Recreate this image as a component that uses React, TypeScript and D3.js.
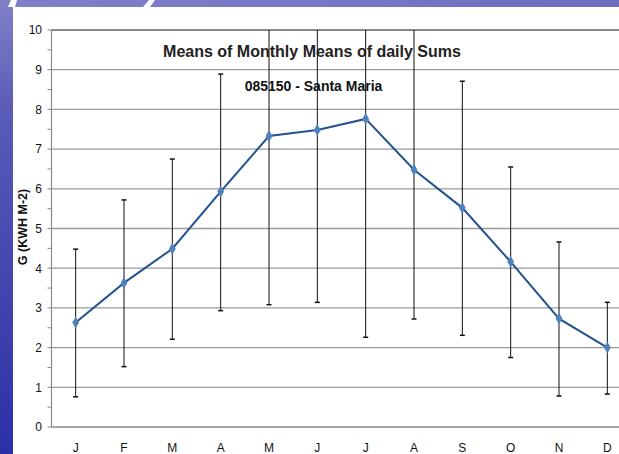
import React from "react";
import * as d3 from "d3";

const months = ["J", "F", "M", "A", "M", "J", "J", "A", "S", "O", "N", "D"];
const means = [2.63, 3.63, 4.49, 5.93, 7.33, 7.48, 7.76, 6.48, 5.52, 4.16, 2.73, 2.0];
const errHigh = [4.48, 5.72, 6.75, 8.89, 11, 11, 11, 11, 8.71, 6.55, 4.66, 3.14];
const errLow = [0.76, 1.52, 2.21, 2.93, 3.08, 3.14, 2.26, 2.72, 2.31, 1.75, 0.78, 0.83];
const yTicks = [0, 1, 2, 3, 4, 5, 6, 7, 8, 9, 10];
const yMinor = [0.5, 1.5, 2.5, 3.5, 4.5, 5.5, 6.5, 7.5, 8.5, 9.5];

const W = 619;
const H = 454;
const left = 51.5;
const right = 631.5;
const top = 30;
const bottom = 427;

export default function App() {
  const x = d3
    .scaleBand<number>()
    .domain(months.map((_, i) => i))
    .range([left, right]);
  const cx = (i: number) => (x(i) as number) + x.bandwidth() / 2;
  const y = d3.scaleLinear().domain([0, 10]).range([bottom, top]);
  const line = d3
    .line<number>()
    .x((_, i) => cx(i))
    .y((d) => y(d));
  const diamond = d3.symbol().type(d3.symbolDiamond).size(40)();
  const font = "'Liberation Sans', Arial, sans-serif";

  return (
    <svg
      width={W}
      height={H}
      style={{ position: "absolute", left: 0, top: 0, display: "block" }}
      fontFamily={font}
    >
      <defs>
        <linearGradient id="leftg" x1="0" y1="0" x2="0" y2="1">
          <stop offset="0" stopColor="#8080c8" />
          <stop offset="0.25" stopColor="#5a5ab8" />
          <stop offset="1" stopColor="#2c30a6" />
        </linearGradient>
        <linearGradient id="topg" x1="0" y1="0" x2="1" y2="0">
          <stop offset="0" stopColor="#8080c8" />
          <stop offset="1" stopColor="#6e6ec0" />
        </linearGradient>
        <clipPath id="plotclip">
          <rect x={0} y={top} width={W} height={H - top} />
        </clipPath>
      </defs>
      <rect x={0} y={0} width={W} height={H} fill="#ffffff" />
      <rect x={0} y={0} width={W} height={7} fill="url(#topg)" />
      <rect x={0} y={0} width={13} height={H} fill="url(#leftg)" />
      <polygon points="11,0 17,0 15,7 8,7" fill="#ffffff" />
      <polygon points="149,0 155,0 150,7 143,7" fill="#ffffff" />

      {/* gridlines */}
      {yTicks.map((t) => (
        <line
          key={"g" + t}
          x1={left}
          x2={W}
          y1={y(t)}
          y2={y(t)}
          stroke={t === 10 ? "#111" : t === 0 ? "#888" : "#9a9a9a"}
          strokeWidth={t === 10 ? 1.2 : 1.3}
        />
      ))}
      {/* left axis */}
      <line x1={left} x2={left} y1={top} y2={bottom} stroke="#8a8a8a" strokeWidth={1.2} />
      {yTicks.map((t) => (
        <line key={"t" + t} x1={left - 4} x2={left} y1={y(t)} y2={y(t)} stroke="#888" strokeWidth={1} />
      ))}
      {yMinor.map((t) => (
        <line key={"m" + t} x1={left - 4} x2={left} y1={y(t)} y2={y(t)} stroke="#888" strokeWidth={1} />
      ))}
      {yTicks.map((t) => (
        <text key={"l" + t} x={42} y={y(t) + 4.3} textAnchor="end" fontSize={12} fill="#111">
          {t}
        </text>
      ))}
      {months.map((m, i) => (
        <text key={"x" + i} x={cx(i)} y={452} textAnchor="middle" fontSize={12} fill="#111">
          {m}
        </text>
      ))}

      {/* error bars */}
      <g clipPath="url(#plotclip)">
        {months.map((_, i) => (
          <g key={"e" + i} stroke="#111" strokeWidth={1}>
            <line x1={cx(i)} x2={cx(i)} y1={y(errHigh[i])} y2={y(errLow[i])} />
            <line x1={cx(i) - 2.5} x2={cx(i) + 2.5} y1={y(errHigh[i])} y2={y(errHigh[i])} strokeWidth={1.5} />
            <line x1={cx(i) - 2.5} x2={cx(i) + 2.5} y1={y(errLow[i])} y2={y(errLow[i])} strokeWidth={1.5} />
          </g>
        ))}
      </g>

      <path d={line(means) as string} fill="none" stroke="#24528e" strokeWidth={2} />
      {means.map((v, i) => (
        <path key={"p" + i} d={diamond as string} transform={`translate(${cx(i)},${y(v)})`} fill="#4f81bd" />
      ))}

      <text x={312} y={57} textAnchor="middle" fontSize={16} fontWeight="bold" fill="#222">
        Means of Monthly Means of daily Sums
      </text>
      <text x={313.5} y={91} textAnchor="middle" fontSize={14} fontWeight="bold" fill="#111">
        085150 - Santa Maria
      </text>
      <text
        transform={`translate(27,227) rotate(-90)`}
        textAnchor="middle"
        fontSize={12.5}
        fontWeight="bold"
        fill="#111"
      >
        G (KWH M-2)
      </text>
    </svg>
  );
}
